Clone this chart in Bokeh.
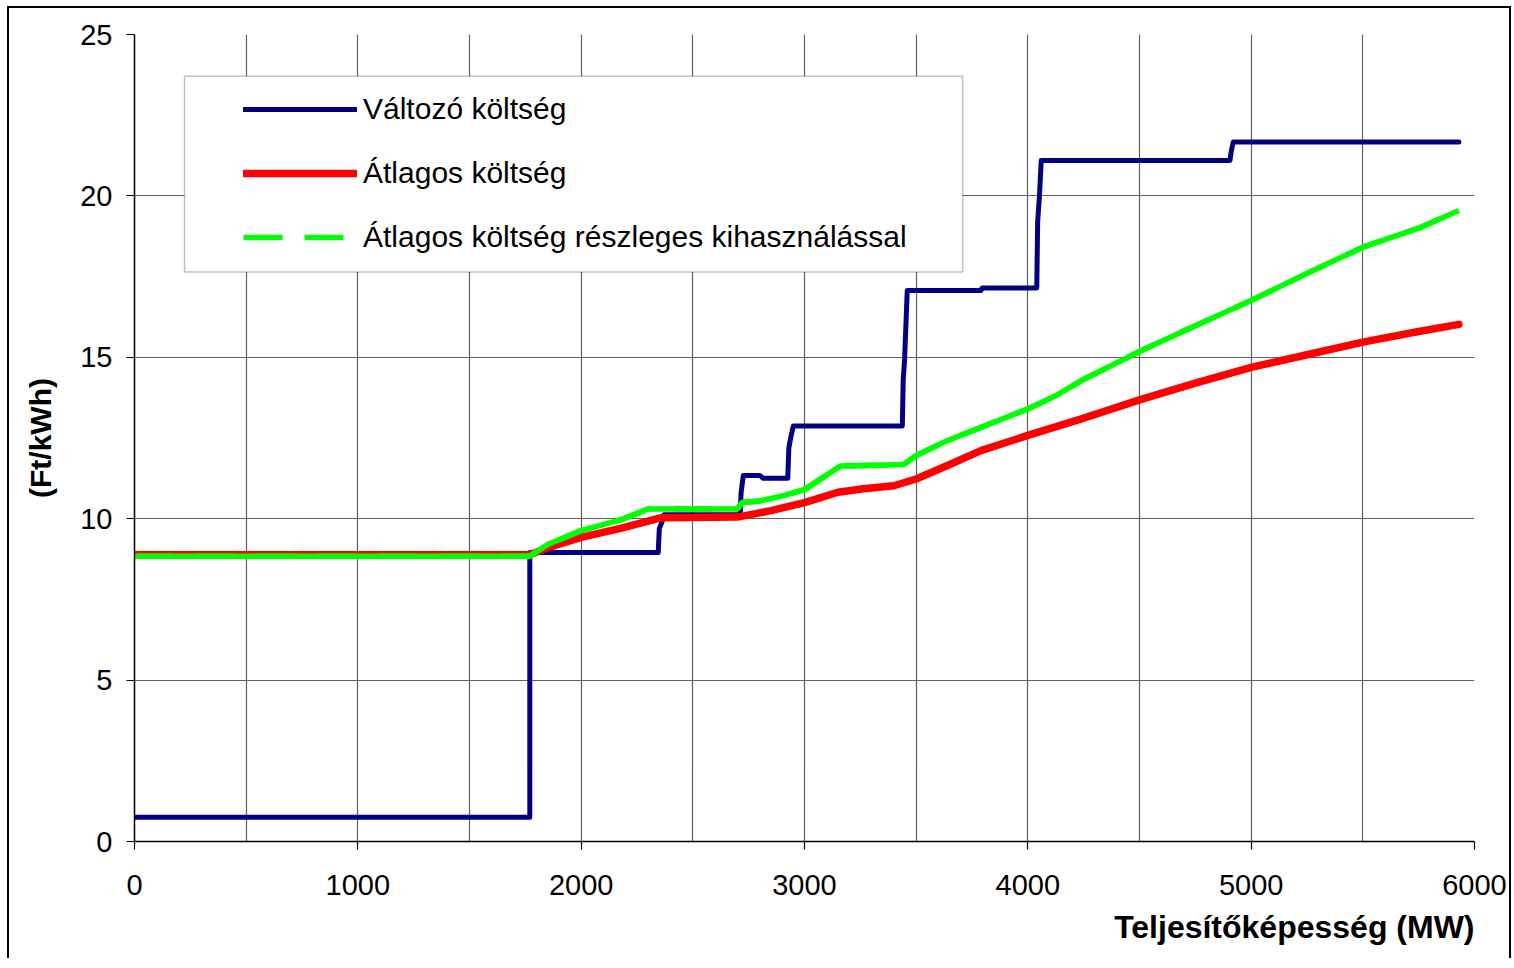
from bokeh.plotting import figure
from bokeh.models import (Range1d, FixedTicker, Legend, LegendItem, BoxAnnotation, Title)
from bokeh.embed import file_html
from bokeh.resources import INLINE

# ---- data ----
x_ticks = [0, 1000, 2000, 3000, 4000, 5000, 6000]
y_ticks = [0, 5, 10, 15, 20, 25]

series_names = ["Változó költség", "Átlagos költség", "Átlagos költség részleges kihasználással"]

valtozo_x = [0, 1770, 1770, 2345, 2350, 2362, 2370, 2712, 2716, 2726, 2800, 2815, 2925, 2930, 2938, 2950,
             3438, 3442, 3448, 3460, 3790, 3795, 4040, 4044, 4052, 4060, 4905, 4910, 4920, 5930]
valtozo_y = [0.75, 0.75, 8.95, 8.95, 9.7, 9.9, 10.12, 10.12, 10.8, 11.34, 11.34, 11.25, 11.25, 12.2, 12.5, 12.87,
             12.87, 14.3, 14.9, 17.07, 17.07, 17.15, 17.15, 19.2, 20.0, 21.1, 21.1, 21.35, 21.67, 21.67]

atlagos_x = [0, 1770, 1850, 2000, 2180, 2360, 2700, 2850, 3000, 3150, 3265, 3400, 3500, 3640, 3790,
             4000, 4240, 4500, 4750, 5000, 5250, 5500, 5750, 5930]
atlagos_y = [8.88, 8.88, 9.1, 9.42, 9.71, 10.03, 10.05, 10.25, 10.5, 10.82, 10.93, 11.02, 11.23, 11.65, 12.11,
             12.58, 13.09, 13.68, 14.2, 14.69, 15.08, 15.47, 15.8, 16.02]

reszleges_x = [0, 1770, 1850, 2000, 2180, 2300, 2700, 2720, 2800, 2910, 3000, 3160, 3370, 3445, 3500, 3640,
               3790, 4000, 4120, 4240, 4500, 4750, 5000, 5250, 5500, 5750, 5930]
reszleges_y = [8.84, 8.84, 9.2, 9.63, 9.97, 10.3, 10.3, 10.5, 10.55, 10.72, 10.9, 11.63, 11.66, 11.68, 11.96, 12.42,
               12.83, 13.4, 13.79, 14.28, 15.18, 15.98, 16.76, 17.6, 18.41, 19.0, 19.55]

x_title = "Teljesítőképesség (MW)"
y_title = "(Ft/kWh)"

FONT = "Liberation Sans"

p = figure(width=1504, height=952, output_backend="svg", toolbar_location=None,
           x_range=Range1d(0, 6000), y_range=Range1d(0, 25),
           min_border_left=125, min_border_right=39, min_border_top=26, min_border_bottom=119)
p.styles = {"border-left": "2px solid #000", "border-top": "2px solid #000", "border-right": "2px solid #000",
            "margin-left": "7px", "margin-top": "6px"}
p.background_fill_color = "white"
p.border_fill_color = "white"
p.outline_line_color = None

# axes
for ax in (p.xaxis[0], p.yaxis[0]):
    ax.major_label_text_font = FONT
    ax.major_label_text_font_size = "29px"
    ax.major_label_text_color = "black"
    ax.axis_line_color = "black"
    ax.axis_line_width = 1.5
    ax.major_tick_line_color = "black"
    ax.major_tick_line_width = 1.2
    ax.major_tick_in = 0
    ax.major_tick_out = 8
    ax.minor_tick_line_color = None

p.xaxis.ticker = FixedTicker(ticks=x_ticks)
p.yaxis.ticker = FixedTicker(ticks=y_ticks)
p.xaxis.major_label_standoff = 25
p.yaxis.major_label_standoff = 14

p.yaxis.axis_label = y_title
p.yaxis.axis_label_text_font = FONT
p.yaxis.axis_label_text_font_size = "30px"
p.yaxis.axis_label_text_font_style = "bold"
p.yaxis.axis_label_text_color = "black"
p.yaxis.axis_label_standoff = 20

# grids
p.xgrid.ticker = FixedTicker(ticks=list(range(0, 6001, 500)))
p.ygrid.ticker = FixedTicker(ticks=y_ticks)
for g in (p.xgrid[0], p.ygrid[0]):
    g.grid_line_color = "#606060"
    g.grid_line_width = 1.2

# lines (blue below red below green)
r_blue = p.line(valtozo_x, valtozo_y, line_color="#000080", line_width=5, line_cap="round", line_join="round")
r_red = p.line(atlagos_x, atlagos_y, line_color="#ff0000", line_width=7.5, line_cap="round", line_join="round")
# dashed copy used for the legend key, fully covered by the solid line drawn on top of it
r_green_leg = p.line(reszleges_x, reszleges_y, line_color="#00ff00", line_width=5.5, line_dash="39 22")
r_green = p.line(reszleges_x, reszleges_y, line_color="#00ff00", line_width=5.5)

# legend frame
box = BoxAnnotation(left=224, right=3708, bottom=17.64, top=23.71,
                    fill_color="white", fill_alpha=1.0, line_color="#303030", line_width=1.5)
p.add_layout(box)

legend = Legend(items=[LegendItem(label=series_names[0], renderers=[r_blue]),
                       LegendItem(label=series_names[1], renderers=[r_red]),
                       LegendItem(label=series_names[2], renderers=[r_green_leg])],
                location=(109, 587), padding=0, margin=0, spacing=30,
                glyph_width=114, glyph_height=30, label_height=30, label_standoff=6,
                label_text_font=FONT, label_text_font_size="30px", label_text_color="black",
                border_line_alpha=0, background_fill_alpha=0)
p.add_layout(legend)

p.add_layout(Title(text=x_title, align="right", text_font=FONT, text_font_size="32px",
                   text_font_style="bold", text_color="black", standoff=19), "below")

open("out.html", "w").write(file_html(p, INLINE))
